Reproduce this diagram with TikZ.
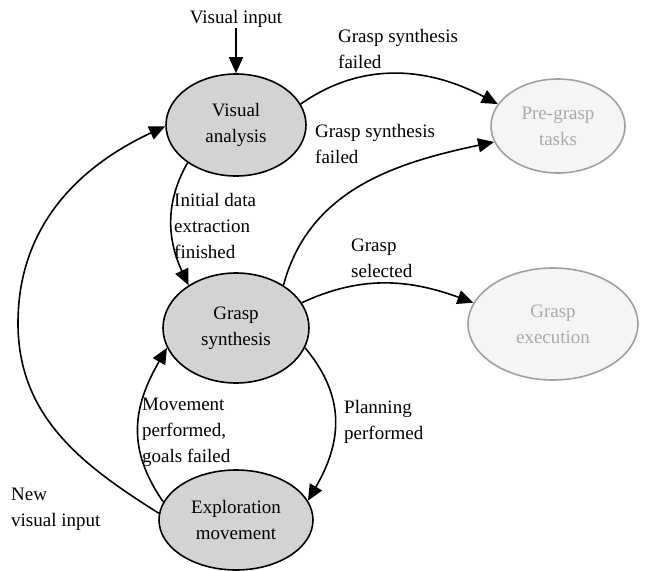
\documentclass[tikz,border=0pt]{standalone}
\usepackage{fontspec}
\setmainfont{Liberation Serif}
\usetikzlibrary{shapes.geometric,arrows.meta}

\begin{document}
\begin{tikzpicture}[x=1pt,y=1pt]
\tikzset{every node/.style={font=\fontsize{19}{26}\selectfont, inner sep=0pt}}
\tikzset{state/.style={ellipse, draw, line width=1.6pt, fill={rgb,255:red,211;green,211;blue,211}, align=center}}
\tikzset{idle/.style={ellipse, draw={rgb,255:red,160;green,160;blue,160}, line width=1.6pt, fill={rgb,255:red,245;green,245;blue,245}, text={rgb,255:red,170;green,170;blue,170}, align=center}}
\tikzset{trans/.style={-{Triangle[length=16pt,width=14pt]}, line width=1.6pt}}
\tikzset{lbl/.style={anchor=west, align=left}}

\useasboundingbox (0,0) rectangle (649,-571);

\node[state, minimum width=140pt, minimum height=102pt] (va) at (236,-125) {Visual\\analysis};
\node[state, minimum width=146pt, minimum height=110pt] (gs) at (236,-328) {Grasp\\synthesis};
\node[state, minimum width=154pt, minimum height=100pt] (em) at (236,-520) {Exploration\\movement};
\node[idle, minimum width=134pt, minimum height=94pt] (pg) at (558,-126) {Pre-grasp\\tasks};
\node[idle, minimum width=170pt, minimum height=112pt] (ge) at (553,-324) {Grasp\\execution};

\node (vin) at (236,-19) {Visual input};
\draw[trans] (vin) -- (va);

\draw[trans] (va.18) to[out=35,in=152] (pg.160);
\node[lbl] at (338,-49) {Grasp synthesis\\failed};

\draw[trans] (gs.42) to[out=75,in=192] (pg.194);
\node[lbl] at (315,-144) {Grasp synthesis\\failed};

\draw[trans] (va.218) to[out=240,in=115] (gs.138);
\node[lbl] at (174,-226) {Initial data\\extraction\\finished};

\draw[trans] (gs.21) to[out=25,in=160] (ge.165);
\node[lbl] at (351,-258) {Grasp\\selected};

\draw[trans] (gs.344) to[out=-50,in=60,looseness=1.1] (em.15);
\node[lbl] at (344,-422) {Planning\\performed};

\draw[trans] (em.166) to[out=125,in=240,looseness=1.1] (gs.196);
\node[lbl] at (142,-432) {Movement\\performed,\\goals failed};

\coordinate (nvbend) at (18,-323);
\draw[trans] (em.175) to[out=148,in=270] (nvbend) to[out=90,in=205] (va.181);
\node[lbl] at (11,-509) {New\\visual input};
\end{tikzpicture}
\end{document}
